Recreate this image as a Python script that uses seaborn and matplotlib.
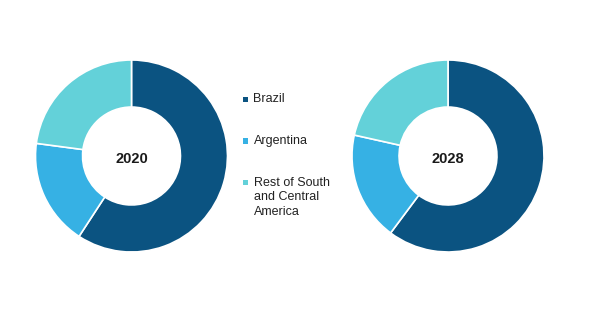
import matplotlib
matplotlib.use("Agg")
import matplotlib.pyplot as plt
from matplotlib.patches import Rectangle
import seaborn as sns

# Market share by country, South and Central America
categories = ["Brazil", "Argentina", "Rest of South\nand Central\nAmerica"]
share_2020 = [59.2, 17.9, 22.9]
share_2028 = [60.2, 18.3, 21.5]
years = ["2020", "2028"]
colors = ["#0b5381", "#36b1e4", "#63d1d9"]

sns.set_theme(style="white")
plt.rcParams["font.family"] = ["Liberation Sans", "DejaVu Sans"]

fig = plt.figure(figsize=(6.0, 3.27), dpi=100)

W, H = 600, 327
def donut_axes(cx, cy, r):
    return fig.add_axes([(cx - r) / W, (H - cy - r) / H, 2 * r / W, 2 * r / H])

for (cx, cy), values, year in zip([(131.5, 156), (448, 156)], [share_2020, share_2028], years):
    ax = donut_axes(cx, cy, 96)
    ax.pie(values, colors=colors, startangle=90, counterclock=False,
           radius=1.0,
           wedgeprops=dict(width=0.49, edgecolor="white", linewidth=1.2))
    ax.set_aspect("equal")
    ax.set_xlim(-1, 1)
    ax.set_ylim(-1, 1)
    ax.text(0, -0.03, year, ha="center", va="center", fontsize=10.5,
            fontweight="bold", color="#1a1a1a")
    ax.axis("off")

# Legend drawn as squares with labels beside them
legend_y = [99.3, 141.0, 182.7]
for label, color, y in zip(categories, colors, legend_y):
    s = 5.5
    fig.add_artist(Rectangle(((245.7 - s / 2) / W, (H - y - s / 2) / H), s / W, s / H,
                             transform=fig.transFigure, facecolor=color, edgecolor="none"))
    fig.text(253.5 / W, (H - y + 6.2) / H, label, ha="left", va="top",
             fontsize=9, color="#222222", linespacing=1.28)

fig.savefig("out.png", dpi=100, facecolor="white")
